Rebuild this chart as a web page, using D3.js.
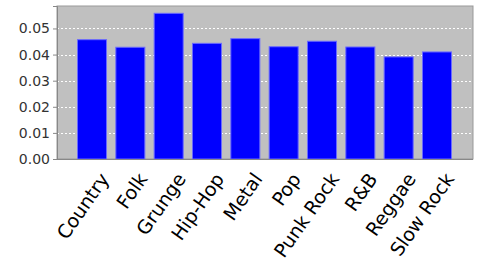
<!DOCTYPE html>
<html><head><meta charset="utf-8">
<script src="https://cdn.jsdelivr.net/npm/d3@7"></script>
<style>html,body{margin:0;padding:0;background:#fff;}svg{display:block;}</style>
</head><body>
<script>
const categories = ["Country","Folk","Grunge","Hip-Hop","Metal","Pop","Punk Rock","R&B","Reggae","Slow Rock"];
const values = [0.0457,0.0428,0.0558,0.0443,0.0461,0.0430,0.0451,0.0429,0.0391,0.0410];
const yTicks = [0,0.01,0.02,0.03,0.04,0.05];

const W=480,H=270;
const plot={l:57,r:473,t:6,b:159};
const svg=d3.select("body").append("svg").attr("width",W).attr("height",H);

const y=d3.scaleLinear().domain([0,0.0586]).range([plot.b,plot.t]);
const x=d3.scaleBand().domain(categories).range([77.5,451.5]).paddingInner(0.243).paddingOuter(0);

svg.append("rect").attr("x",plot.l).attr("y",plot.t).attr("width",plot.r-plot.l).attr("height",plot.b-plot.t)
  .attr("fill","#c0c0c0").attr("stroke","#999").attr("stroke-width",1);

// gridlines
svg.append("g").selectAll("line").data(yTicks.filter(d=>d>0)).join("line")
  .attr("x1",plot.l).attr("x2",plot.r)
  .attr("y1",d=>Math.round(y(d))+0.5).attr("y2",d=>Math.round(y(d))+0.5)
  .attr("stroke","#ffffff").attr("stroke-width",1).attr("stroke-dasharray","2,2");

// bars
svg.append("g").selectAll("rect").data(values).join("rect")
  .attr("x",(d,i)=>x(categories[i])).attr("width",x.bandwidth())
  .attr("y",d=>y(d)).attr("height",d=>plot.b-y(d))
  .attr("fill","#0000ff").attr("stroke","#6a6aff").attr("stroke-width",1);

// y axis
const ya=svg.append("g").attr("transform",`translate(${plot.l},0)`)
  .call(d3.axisLeft(y).tickValues(yTicks).tickFormat(d3.format(".2f")).tickSize(4).tickPadding(3));
ya.select(".domain").attr("stroke","#888");
ya.selectAll(".tick line").attr("stroke","#888");
ya.selectAll(".tick text").attr("font-family","'DejaVu Sans'").attr("font-size","14px").attr("fill","#333");

// bottom axis line
svg.append("line").attr("x1",plot.l).attr("x2",plot.r).attr("y1",plot.b+0.5).attr("y2",plot.b+0.5)
  .attr("stroke","#888").attr("stroke-width",1);

// x labels
svg.append("g").selectAll("text").data(categories).join("text")
  .attr("transform",d=>`translate(${x(d)+x.bandwidth()/2+18},${plot.b+20}) rotate(-55)`)
  .attr("text-anchor","end").attr("dominant-baseline","auto")
  .attr("font-family","'DejaVu Sans'").attr("font-size","19px").attr("fill","#000")
  .text(d=>d);
</script>
</body></html>
